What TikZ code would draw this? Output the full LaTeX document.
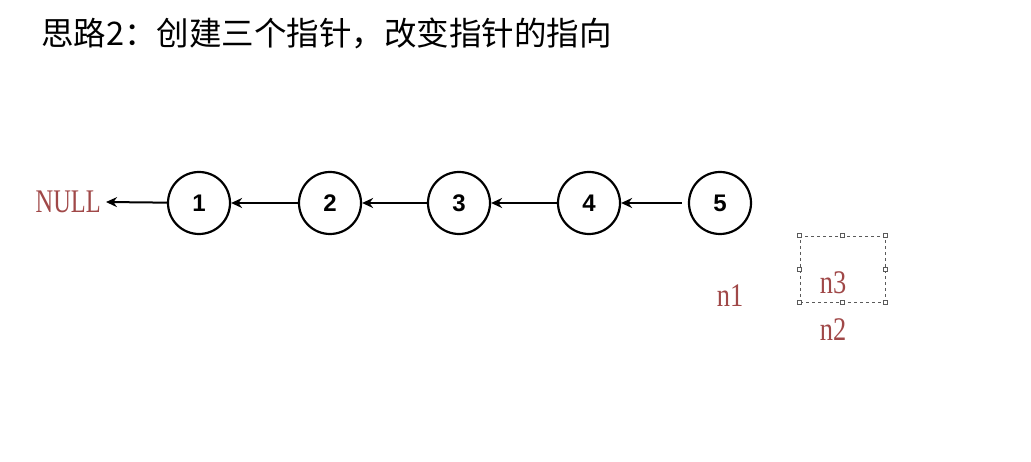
\documentclass[tikz,border=0pt]{standalone}
\usepackage{fontspec}
\usepackage{graphicx}
\usetikzlibrary{arrows.meta}
\setmainfont{Liberation Serif}
\newfontfamily\cjk{Noto Sans CJK SC}
\newfontfamily\numfont{Liberation Sans}
\definecolor{lbl}{HTML}{A04848}
\definecolor{hgrey}{HTML}{5A5A5A}
\tikzset{
  lnode/.style={circle, draw=black, line width=2.2pt, minimum size=62pt, inner sep=0pt, font=\numfont\bfseries\fontsize{24}{28}\selectfont},
  link/.style={-{Stealth[length=11pt,width=10pt]}, line width=2pt},
  redlbl/.style={text=lbl, inner sep=0pt, font=\fontsize{33}{36}\selectfont},
  handle/.style={draw=hgrey, fill=white, line width=0.6pt, minimum size=4pt, inner sep=0pt, rectangle}
}
\begin{document}
\begin{tikzpicture}[x=1pt,y=-1pt]
\useasboundingbox (0,0) rectangle (1031,462);
\node[anchor=west, inner sep=0pt, font=\cjk\fontsize{32.5}{36}\selectfont] (title) at (41,33) {思路2：创建三个指针，改变指针的指向};
\node[lnode] (c1) at (199,203) {1};
\node[lnode] (c2) at (330,203) {2};
\node[lnode] (c3) at (459,203) {3};
\node[lnode] (c4) at (589,203) {4};
\node[lnode] (c5) at (720,203) {5};
\node[redlbl, anchor=east] (null) at (101,202) {\scalebox{0.74}[1]{NULL}};
\draw[link] (c1) -- ([xshift=5pt]null.east);
\draw[link] (c2) -- (c1);
\draw[link] (c3) -- (c2);
\draw[link] (c4) -- (c3);
\draw[link] ([xshift=-6pt]c5.west) -- (c4);
\node[redlbl] (n1) at (730,296) {\scalebox{0.8}[1]{n1}};
\node[redlbl] (n3) at (833,283) {\scalebox{0.8}[1]{n3}};
\node[redlbl] (n2) at (833,330) {\scalebox{0.8}[1]{n2}};
\node[draw=hgrey, dashed, line width=0.7pt, minimum width=85pt, minimum height=66pt, inner sep=0pt] (sel) at (842.5,269) {};
\foreach \a in {north west, north, north east, east, south east, south, south west, west}
  \node[handle] at (sel.\a) {};
\end{tikzpicture}
\end{document}
